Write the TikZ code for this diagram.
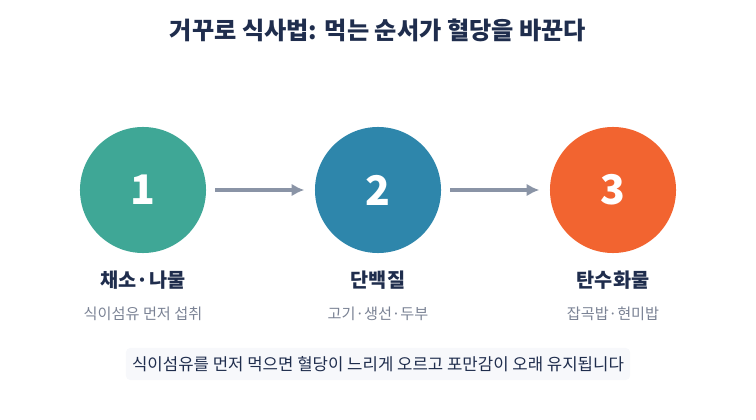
\documentclass[tikz,border=0pt]{standalone}
\usepackage{fontspec}
\setmainfont{Noto Sans CJK KR}
\usetikzlibrary{positioning,arrows.meta}
\definecolor{navy}{HTML}{1F2D4D}
\definecolor{gruen}{HTML}{3FA796}
\definecolor{blau}{HTML}{2E86AB}
\definecolor{orangeF}{HTML}{F26430}
\definecolor{pfeil}{HTML}{8A94A6}
\definecolor{grau}{HTML}{7A8294}
\definecolor{hell}{HTML}{F7F8FB}
\tikzset{
  kreis/.style={circle,minimum size=3.15cm,inner sep=0pt,text=white,font=\fontsize{29}{31}\selectfont\bfseries},
  titel/.style={text=navy,font=\fontsize{14}{16}\selectfont\bfseries},
  unter/.style={text=grau,font=\fontsize{10.8}{12}\selectfont},
  edge/.style={-{Latex[length=9pt,width=9pt]},line width=2.2pt,draw=pfeil}
}
\begin{document}
\begin{tikzpicture}[x=0.025cm,y=-0.025cm]
\useasboundingbox (0,0) rectangle (756,420);
\node[text=navy,font=\fontsize{17.2}{19}\selectfont\bfseries] (T) at (378,30) {거꾸로 식사법: 먹는 순서가 혈당을 바꾼다};

\node[kreis,fill=gruen] (C1) at (143,190) {1};
\node[kreis,fill=blau] (C2) at (378,190) {2};
\node[kreis,fill=orangeF] (C3) at (613,190) {3};

\node[titel] (N1) at (143,280) {채소·나물};
\node[titel] (N2) at (378,280) {단백질};
\node[titel] (N3) at (613,280) {탄수화물};

\node[unter] (S1) at (143,314) {식이섬유 먼저 섭취};
\node[unter] (S2) at (378,314) {고기·생선·두부};
\node[unter] (S3) at (613,314) {잡곡밥·현미밥};

\draw[edge] (C1.east) ++(9,0) -- ++(89,0);
\draw[edge] (C2.east) ++(9,0) -- ++(89,0);

\node[fill=hell,rounded corners=3pt,minimum width=12.6cm,minimum height=0.8cm,text=navy,font=\fontsize{11.9}{14}\selectfont] (B) at (378,364) {식이섬유를 먼저 먹으면 혈당이 느리게 오르고 포만감이 오래 유지됩니다};
\end{tikzpicture}
\end{document}
